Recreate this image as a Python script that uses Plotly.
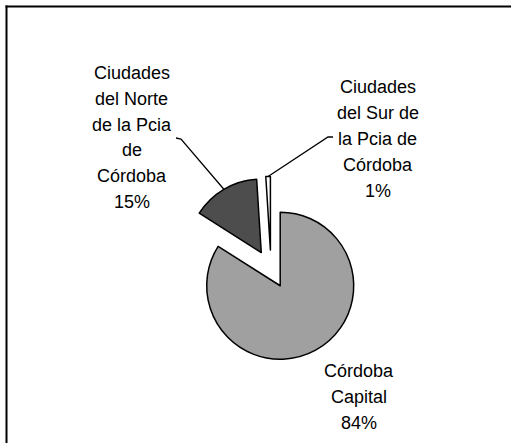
import numpy as np
import plotly.graph_objects as go

# ---- data ----
categories = ["Córdoba Capital",
              "Ciudades del Norte de la Pcia de Córdoba",
              "Ciudades del Sur de la Pcia de Córdoba"]
values = [84, 15, 1]
label_lines = [["Córdoba", "Capital"],
               ["Ciudades", "del Norte", "de la Pcia", "de", "Córdoba"],
               ["Ciudades", "del Sur de", "la Pcia de", "Córdoba"]]
colors = ["#a0a0a0", "#4d4d4d", "#ffffff"]

# ---- layout constants (pixels) ----
W, H = 511, 443
cx, cy = 271.0, 269.0        # pie centre
r_px = 73.5                  # slice radius
pull = 0.26
half_box = r_px * (1 + pull)

dom_x = [(cx - half_box) / W, (cx + half_box) / W]
dom_y = [1 - (cy + half_box) / H, 1 - (cy - half_box) / H]

FONT = "Liberation Sans, Arial, sans-serif"
FSIZE = 18
LINE_H = 25.8

fig = go.Figure(go.Pie(
    labels=categories, values=values, sort=False, direction="clockwise",
    rotation=0, pull=pull, textinfo="none", hoverinfo="label+percent",
    marker=dict(colors=colors, line=dict(color="black", width=1.5)),
    domain=dict(x=dom_x, y=dom_y), showlegend=False,
))

def px2paper(x, y):
    return x / W, 1 - y / H

def path_of(pts):
    return "M " + " L ".join(f"{px2paper(x, y)[0]:.5f},{px2paper(x, y)[1]:.5f}" for x, y in pts)

# label block centres (layout) and leader tick starts
label_pos = [(359, 397), (131.5, 137.5), (377.5, 139)]
leader_start = [None, [(176, 138), (181, 139)], [(333, 137), (328, 137)]]

total = float(sum(values))
cum = 0.0
annotations, shapes = [], []
for i, v in enumerate(values):
    mid = (cum + v / 2) / total * 2 * np.pi
    cum += v
    dx, dy = np.sin(mid), -np.cos(mid)
    pct = int(round(v / total * 100))
    lines = label_lines[i] + [f"{pct}%"]
    n = len(lines)
    bx, by = label_pos[i]
    for k, line in enumerate(lines):
        ly_px = by + (k - (n - 1) / 2) * LINE_H
        lx, ly = px2paper(bx, ly_px)
        annotations.append(dict(x=lx, y=ly, xref="paper", yref="paper", text=line,
                                showarrow=False, xanchor="center", yanchor="middle",
                                font=dict(family=FONT, size=FSIZE, color="black")))
    if leader_start[i] is not None:
        ex = cx + dx * r_px * (1 + pull)
        ey = cy + dy * r_px * (1 + pull)
        pts = leader_start[i] + [(ex, ey)]
        shapes.append(dict(type="path", path=path_of(pts), xref="paper", yref="paper",
                           line=dict(color="black", width=1.3)))

# chart border: left edge and top edge as separate lines
shapes.append(dict(type="line", xref="paper", yref="paper",
                   x0=6.5 / W, x1=6.5 / W, y0=0, y1=1 - 5.5 / H,
                   line=dict(color="black", width=2)))
shapes.append(dict(type="line", xref="paper", yref="paper",
                   x0=5.5 / W, x1=1, y0=1 - 6.5 / H, y1=1 - 6.5 / H,
                   line=dict(color="black", width=2)))

fig.update_layout(width=W, height=H, margin=dict(l=0, r=0, t=0, b=0),
                  paper_bgcolor="white", plot_bgcolor="white",
                  annotations=annotations, shapes=shapes)
fig.write_html("out.html", config={"displayModeBar": False},
               post_script=("document.body.style.margin='0';"
                            "document.body.style.overflow='hidden';"
                            "document.documentElement.style.overflow='hidden';"))
